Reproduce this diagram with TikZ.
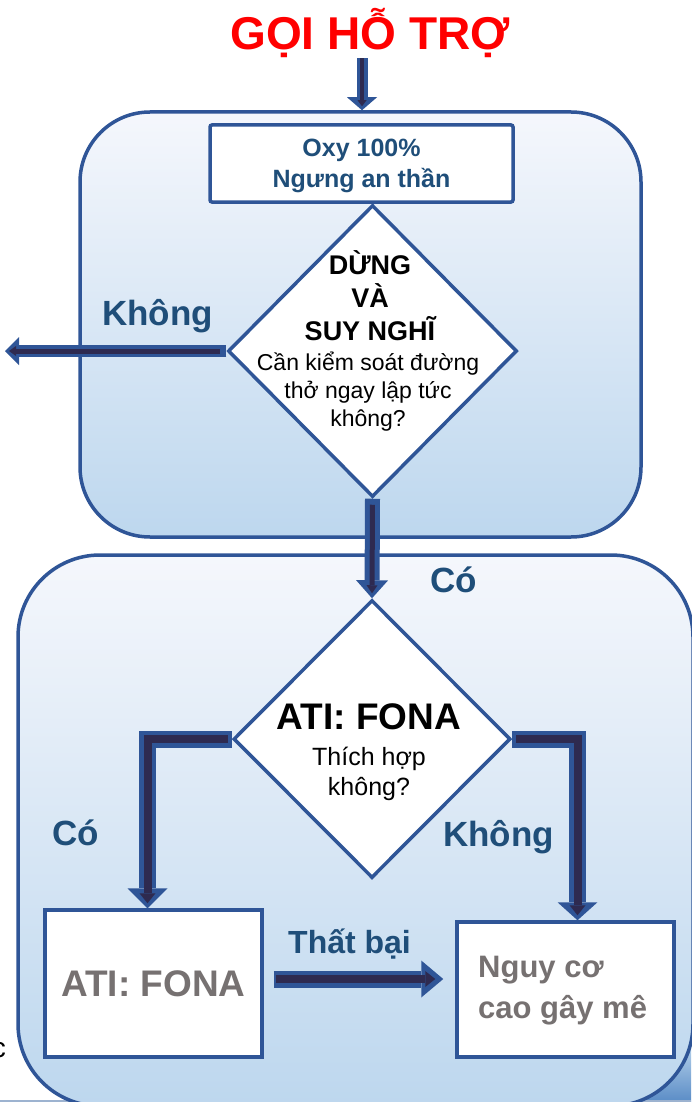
\documentclass[tikz,border=0pt]{standalone}
\usepackage{fontspec}
\setmainfont{Liberation Sans}
\usetikzlibrary{shapes.geometric,arrows.meta,calc}
\definecolor{ablue}{HTML}{2F5597}
\definecolor{adark}{HTML}{2E2A50}
\definecolor{tblue}{HTML}{1F4E79}
\definecolor{tgray}{HTML}{767171}
\definecolor{ztop}{HTML}{F5F7FC}
\definecolor{zbot}{HTML}{BDD7EE}
\definecolor{cornerblue}{HTML}{5A8CC6}
\definecolor{rulec}{HTML}{9DB3D0}
\tikzset{
  zone/.style={rectangle, draw=ablue, line width=3.5pt, top color=ztop, bottom color=zbot, inner sep=0pt},
  whitebox/.style={rectangle, draw=ablue, line width=3.5pt, fill=white, inner sep=0pt},
  dia/.style={diamond, draw=ablue, line width=3.5pt, fill=white, inner sep=0pt},
  lab/.style={font=\bfseries\fontsize{35}{40}\selectfont, text=tblue, inner sep=0pt, anchor=base west},
  fatout/.style n args={3}{draw=ablue, line width=#1, line join=miter, -{Triangle[width=#2,length=#3,line width=0pt]}},
  fatin/.style n args={4}{draw=adark, line width=#1, line join=miter, shorten >=#2, -{Triangle[width=#3,length=#4,line width=0pt]}},
}
\begin{document}
\begin{tikzpicture}[x=1pt,y=-1pt]
\useasboundingbox (0,0) rectangle (691,1102);
% bottom right outside patch and bottom rule
\shade[top color=zbot, bottom color=cornerblue] (590,1040) rectangle (691,1102);
\draw[rulec, line width=1.5pt] (0,1101.2) -- (691,1101.2);
% zones
\node[zone, minimum width=561pt, minimum height=425pt, rounded corners=70pt] (zone1) at (360.5,324.5) {};
\node[zone, minimum width=675pt, minimum height=551pt, rounded corners=82pt] (zone2) at (355.5,830.5) {};
% title
\node[font=\bfseries\fontsize{46}{50}\selectfont, text=red, inner sep=0pt, anchor=base] (title) at (370,50) {GỌI HỖ TRỢ};
% boxes
\node[whitebox, minimum width=303pt, minimum height=77pt, rounded corners=2pt] (oxy) at (361.5,163.5) {};
\node[font=\bfseries\fontsize{25}{31}\selectfont, text=tblue, align=center, inner sep=0pt, anchor=base] (oxyt) at (361.5,188) {Oxy 100\%\\Ngưng an thần};
\node[dia, minimum width=289pt, minimum height=292pt] (d1) at (372.5,351) {};
\node[font=\bfseries\fontsize{27}{33}\selectfont, align=center, inner sep=0pt, anchor=base] (d1title) at (370,340) {DỪNG\\VÀ\\SUY NGHĨ};
\node[font=\fontsize{23}{28}\selectfont, align=center, inner sep=0pt, anchor=base] (d1q) at (368,426) {Cần kiểm soát đường\\thở ngay lập tức\\không?};
\node[dia, minimum width=277pt, minimum height=278pt] (d2) at (372,739) {};
\node[font=\bfseries\fontsize{37}{40}\selectfont, inner sep=0pt, anchor=base] (d2title) at (369,729) {ATI: FONA};
\node[font=\fontsize{25}{30}\selectfont, align=center, inner sep=0pt, anchor=base] (d2q) at (369,795) {Thích hợp\\không?};
\node[whitebox, minimum width=217pt, minimum height=147pt, font=\bfseries\fontsize{37}{40}\selectfont, text=tgray] (atibox) at (153.5,983.5) {ATI: FONA};
\node[whitebox, minimum width=217pt, minimum height=135pt] (risk) at (565.5,989.5) {};
\node[font=\bfseries\fontsize{31}{41}\selectfont, text=tgray, align=left, inner sep=0pt, anchor=base west] (riskt) at (478,1018) {Nguy cơ\\cao gây mê};
% labels
\node[lab] (lk1) at (102,325) {Không};
\node[lab] (lc1) at (430,592) {Có};
\node[lab] (lc2) at (52,845) {Có};
\node[lab] (lk2) at (443,846) {Không};
\node[lab, font=\bfseries\fontsize{32}{38}\selectfont] (lfail) at (288,953) {Thất bại};
\node[font=\fontsize{28}{32}\selectfont, inner sep=0pt, anchor=base east] (cfrag) at (6,1057) {c};
\coordinate (farleft) at (5,351);
% connectors: outer
\draw[fatout={11pt}{30pt}{13pt}] ([xshift=-8pt]title.south) -- ([xshift=-8pt]title.south |- zone1.north);
\draw[fatout={12pt}{28pt}{14pt}] (d1.west) -- (farleft);
\draw[fatout={15pt}{32pt}{18pt}] (d1.south) -- (d2.north);
\draw[fatout={17pt}{40pt}{20pt}] (d2.west) -| ([xshift=-6pt]atibox.north);
\draw[fatout={17pt}{40pt}{18pt}] (d2.east) -| ([xshift=12pt]risk.north);
\draw[fatout={17pt}{37pt}{22pt}, shorten <=10pt, shorten >=12pt] ([yshift=4.5pt]atibox.east) -- ([yshift=4.5pt]atibox.east -| risk.west);
% connectors: inner
\draw[fatin={4.5pt}{4pt}{9pt}{6pt}] ([xshift=-8pt]title.south) -- ([xshift=-8pt]title.south |- zone1.north);
\draw[fatin={5pt}{4pt}{10pt}{7pt}, shorten <=6pt] (d1.west) -- (farleft);
\draw[fatin={5pt}{5pt}{11pt}{8pt}, shorten <=6pt] (d1.south) -- (d2.north);
\draw[fatin={8pt}{5pt}{16pt}{10pt}, shorten <=4pt] (d2.west) -| ([xshift=-6pt]atibox.north);
\draw[fatin={8pt}{5pt}{16pt}{10pt}, shorten <=4pt] (d2.east) -| ([xshift=12pt]risk.north);
\draw[fatin={8pt}{20pt}{16pt}{10pt}, shorten <=12pt] ([yshift=4.5pt]atibox.east) -- ([yshift=4.5pt]atibox.east -| risk.west);
\end{tikzpicture}
\end{document}
